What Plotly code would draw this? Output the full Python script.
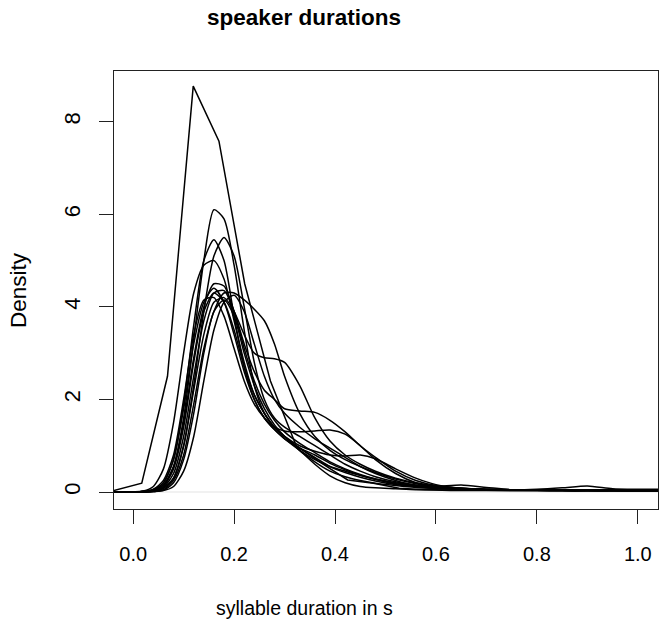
import plotly.graph_objects as go

# common evaluation grid (s)
X = [-0.05, 0.02, 0.04, 0.06, 0.08, 0.10, 0.12, 0.14, 0.16, 0.18, 0.20, 0.22, 0.24, 0.26,
     0.28, 0.30, 0.33, 0.36, 0.39, 0.42, 0.45, 0.48, 0.52, 0.56, 0.60, 0.65, 0.70,
     0.75, 0.80, 0.85, 0.90, 0.95, 1.00, 1.05]

# speaker with few syllables: coarse density estimate
tall_x = [-0.05, 0.017, 0.068, 0.119, 0.170, 0.221, 0.272, 0.323, 0.374, 0.425, 0.476,
          0.527, 0.578, 0.629, 0.700, 0.800, 0.900, 1.000, 1.060]
tall_y = [0.0, 0.19, 2.50, 8.77, 7.58, 4.50, 2.40, 1.00, 0.62, 0.26, 0.19,
          0.08, 0.05, 0.03, 0.03, 0.02, 0.02, 0.02, 0.02]

spk01 = [0, 0.01, 0.04, 0.15, 0.55, 1.6, 3.3, 5.0, 6.1, 5.9, 4.9, 3.5, 2.3, 1.7, 1.4, 1.2, 0.95,
         0.75, 0.55, 0.42, 0.32, 0.24, 0.16, 0.11, 0.08, 0.06, 0.05, 0.04, 0.04, 0.03, 0.03, 0.03, 0.02, 0.02]
spk02 = [0, 0.0, 0.02, 0.08, 0.3, 1.0, 2.3, 3.9, 5.1, 5.5, 5.1, 4.0, 2.8, 2.0, 1.6, 1.4, 1.2,
         1.0, 0.8, 0.6, 0.45, 0.33, 0.22, 0.15, 0.1, 0.07, 0.05, 0.05, 0.04, 0.04, 0.03, 0.03, 0.03, 0.03]
spk03 = [0, 0.01, 0.05, 0.2, 0.7, 1.9, 3.6, 5.0, 5.45, 5.0, 3.8, 2.7, 2.0, 1.6, 1.35, 1.15, 0.9,
         0.7, 0.55, 0.45, 0.36, 0.28, 0.2, 0.14, 0.1, 0.07, 0.05, 0.04, 0.04, 0.04, 0.03, 0.03, 0.03, 0.03]
spk04 = [0, 0.02, 0.12, 0.5, 1.5, 3.0, 4.3, 4.9, 5.0, 4.6, 3.7, 2.8, 2.1, 1.7, 1.4, 1.2, 0.9,
         0.65, 0.45, 0.33, 0.25, 0.19, 0.14, 0.1, 0.08, 0.06, 0.05, 0.04, 0.04, 0.03, 0.03, 0.03, 0.03, 0.03]
spk05 = [0, 0.01, 0.04, 0.15, 0.55, 1.5, 2.9, 4.0, 4.5, 4.45, 3.9, 3.1, 2.4, 1.9, 1.55, 1.3, 1.05,
         0.85, 0.65, 0.5, 0.38, 0.28, 0.18, 0.12, 0.08, 0.06, 0.05, 0.05, 0.04, 0.04, 0.04, 0.03, 0.03, 0.03]
spk06 = [0, 0.0, 0.02, 0.1, 0.4, 1.2, 2.5, 3.7, 4.3, 4.35, 3.9, 3.2, 2.6, 2.2, 2.0, 1.8, 1.75,
         1.72, 1.55, 1.3, 1.0, 0.75, 0.45, 0.25, 0.14, 0.08, 0.06, 0.05, 0.05, 0.04, 0.04, 0.04, 0.04, 0.04]
spk07 = [0, 0.0, 0.01, 0.05, 0.25, 0.8, 1.9, 3.1, 3.9, 4.3, 4.3, 4.15, 3.95, 3.7, 3.2, 2.5, 1.7,
         1.2, 0.9, 0.7, 0.55, 0.42, 0.28, 0.18, 0.12, 0.08, 0.06, 0.05, 0.05, 0.04, 0.04, 0.04, 0.04, 0.04]
spk08 = [0, 0.01, 0.06, 0.25, 0.8, 2.0, 3.4, 4.15, 4.2, 3.8, 3.1, 2.4, 1.9, 1.6, 1.4, 1.32, 1.3,
         1.32, 1.34, 1.25, 1.0, 0.7, 0.4, 0.2, 0.1, 0.06, 0.04, 0.04, 0.04, 0.04, 0.04, 0.04, 0.04, 0.04]
spk09 = [0, 0.0, 0.02, 0.08, 0.3, 1.0, 2.2, 3.4, 4.1, 4.2, 3.9, 3.4, 3.0, 2.9, 2.88, 2.8, 2.3,
         1.6, 1.1, 0.8, 0.6, 0.45, 0.3, 0.2, 0.13, 0.08, 0.06, 0.05, 0.05, 0.04, 0.04, 0.04, 0.04, 0.04]
spk10 = [0, 0.0, 0.01, 0.04, 0.2, 0.7, 1.7, 3.0, 3.9, 4.15, 3.8, 3.0, 2.3, 1.8, 1.45, 1.2, 0.9,
         0.6, 0.35, 0.2, 0.12, 0.09, 0.07, 0.05, 0.05, 0.04, 0.04, 0.04, 0.04, 0.03, 0.03, 0.03, 0.03, 0.03]
spk11 = [0, 0.01, 0.03, 0.12, 0.5, 1.4, 2.8, 3.9, 4.3, 4.1, 3.5, 2.7, 2.1, 1.7, 1.4, 1.2, 1.0,
         0.88, 0.8, 0.78, 0.8, 0.72, 0.5, 0.3, 0.16, 0.08, 0.05, 0.04, 0.04, 0.04, 0.04, 0.04, 0.04, 0.04]
spk12 = [0, 0.01, 0.05, 0.2, 0.7, 1.8, 3.2, 4.1, 4.4, 4.1, 3.4, 2.6, 2.0, 1.6, 1.35, 1.15, 0.95,
         0.8, 0.62, 0.48, 0.36, 0.27, 0.18, 0.13, 0.12, 0.15, 0.1, 0.05, 0.06, 0.09, 0.13, 0.07, 0.06, 0.06]
spk13 = [0, 0.0, 0.01, 0.03, 0.12, 0.45, 1.2, 2.4, 3.5, 4.1, 4.25, 3.9, 3.2, 2.5, 2.0, 1.7, 1.4,
         1.15, 0.95, 0.75, 0.55, 0.4, 0.25, 0.14, 0.09, 0.06, 0.05, 0.04, 0.04, 0.04, 0.04, 0.03, 0.03, 0.03]

speakers = [spk01, spk02, spk03, spk04, spk05, spk06, spk07, spk08, spk09, spk10, spk11, spk12, spk13]

x_ticks = [0.0, 0.2, 0.4, 0.6, 0.8, 1.0]
x_tick_labels = ["0.0", "0.2", "0.4", "0.6", "0.8", "1.0"]
y_ticks = [0, 2, 4, 6, 8]
y_tick_labels = ["0", "2", "4", "6", "8"]

FONT = "Liberation Sans, Arial, Helvetica, sans-serif"

fig = go.Figure()
fig.add_shape(type="line", xref="paper", yref="y", x0=0, x1=1, y0=0, y1=0,
              line=dict(color="#dcdcdc", width=0.8), layer="below")
fig.add_trace(go.Scatter(x=tall_x, y=tall_y, mode="lines",
                         line=dict(color="black", width=1.5), showlegend=False))
for s in speakers:
    fig.add_trace(go.Scatter(x=X, y=s, mode="lines",
                             line=dict(color="black", width=1.5, shape="spline", smoothing=0.7),
                             showlegend=False))

W, H = 662, 622
L, R, T, B = 114, 4, 71, 113

fig.update_layout(
    width=W, height=H,
    margin=dict(l=L, r=R, t=T, b=B, pad=0),
    paper_bgcolor="white", plot_bgcolor="white",
    font=dict(family=FONT, size=20, color="black"),
    title=dict(text="<b>speaker durations</b>", font=dict(size=22.5, family=FONT, color="black"),
               xref="container", yref="container", x=304 / W, y=1 - 17 / H,
               xanchor="center", yanchor="middle"),
    xaxis=dict(range=[-0.038, 1.04], tickmode="array", tickvals=x_ticks, ticktext=x_tick_labels,
               showgrid=False, zeroline=False, showline=True, linecolor="#222", linewidth=1,
               mirror=True, ticks="outside", ticklen=14, tickcolor="#222", tickwidth=1,
               tickfont=dict(family=FONT, size=20), ticklabelstandoff=13),
    yaxis=dict(range=[-0.367, 9.096], tickmode="array", tickvals=y_ticks, ticktext=y_tick_labels,
               showgrid=False, zeroline=False, showline=True, linecolor="#222", linewidth=1,
               mirror=True, ticks="outside", ticklen=14, tickcolor="#222", tickwidth=1,
               tickangle=-90, tickfont=dict(family=FONT, size=22), ticklabelstandoff=10),
    annotations=[
        dict(text="syllable duration in s", xref="paper", yref="paper",
             x=(304 - L) / (W - L - R), y=(H - B - 608) / (H - T - B),
             xanchor="center", yanchor="middle", showarrow=False,
             font=dict(family=FONT, size=19.5)),
        dict(text="Density", xref="paper", yref="paper",
             x=(18 - L) / (W - L - R), y=0.5, textangle=-90,
             xanchor="center", yanchor="middle", showarrow=False,
             font=dict(family=FONT, size=22.5)),
    ],
)

fig.write_html("out.html")
